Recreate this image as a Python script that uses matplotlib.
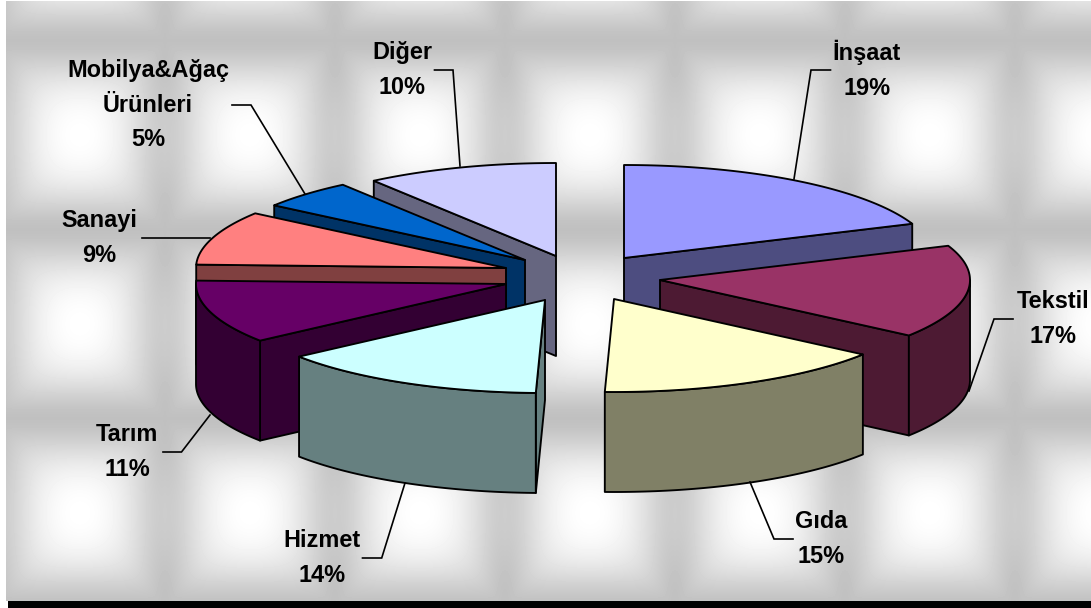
import numpy as np
import matplotlib
matplotlib.use("Agg")
import matplotlib.pyplot as plt
from matplotlib.patches import Polygon, Rectangle

# ---- data ----
categories = ["İnşaat", "Tekstil", "Gıda", "Hizmet", "Tarım", "Sanayi", "Mobilya&Ağaç\nÜrünleri", "Diğer"]
values = [19, 17, 15, 14, 11, 9, 5, 10]

# ---- style ----
top_colors = ["#9999FF", "#993366", "#FFFFCC", "#CCFFFF", "#660066", "#FF8080", "#0066CC", "#CCCCFF"]
side_colors = ["#4D4D80", "#4D1A33", "#808066", "#668080", "#330033", "#804040", "#003366", "#666680"]

# ---- layout (pixels) ----
W, H = 1091, 608
CX, CY = 585, 275
RX, RY, DEPTH = 310, 93, 100
explode_dx = [39, 75, 29, -40, -79, -79, -60, -29]
explode_dy = [-17, 5, 24, 25, 9, -7, -15, -19]
# small corrections of slice boundaries for the perspective of the original 3-D view (degrees)
boundary_nudge = [0, 0, -3, -1.9, -1.5, -1.5, 0, 0, 0]
draw_order = [7, 0, 6, 5, 4, 1, 2, 3]
label_centers = [(867, 70), (1053, 319), (821, 539), (322, 558), (127, 452), (99, 238), (148, 105), (402, 70)]
leader_x = [[830.5, 811, 794], [1013, 994, 969], [793, 774, 750], [362.5, 381.7, 405],
            [163, 181.5, 210], [141.5, 210], [232, 251, 305], [434.5, 453, 460]]
leader_y = [[70, 70, 179], [319, 319, 391], [539, 539, 482], [558, 558, 483],
            [452, 452, 415], [238, 238], [105, 105, 194], [70, 70, 166]]

fig = plt.figure(figsize=(W / 100, H / 100), dpi=100, facecolor="white")
ax = fig.add_axes([0, 0, 1, 1])
ax.set_xlim(0, W)
ax.set_ylim(H, 0)
ax.axis("off")

# background texture: soft pillow tiles
PX, PY = 170.0, 189.0
xs = np.arange(6, W) + 0.5
ys = np.arange(1, 601) + 0.5
gx, gy = np.meshgrid(xs, ys)
cx = np.abs(np.cos(np.pi * (gx - 80) / PX))
cy = np.abs(np.cos(np.pi * (gy - 135) / PY))
p = 3.0
soft_min = (cx ** -p + cy ** -p + 1e-9) ** (-1 / p) * 2 ** (1 / p)
tile = np.clip(soft_min, 0, 1) ** 1.7
band = 0.05 * cy ** 2 * (1 - cx) ** 2
tex = 0.753 + 0.247 * tile + band
ax.imshow(np.clip(tex, 0, 1), cmap="gray", vmin=0, vmax=1, extent=(6, W, 601, 1),
          aspect="auto", interpolation="bilinear", zorder=0)
ax.set_xlim(0, W)
ax.set_ylim(H, 0)
ax.add_patch(Rectangle((8, 601), W - 8, 7, facecolor="black", edgecolor="none", zorder=1))

# angles
cum = np.cumsum([0] + values) / np.sum(values) * 360.0 + np.array(boundary_nudge)
LW = 1.35


def rim(tx, ty, a):
    r = np.radians(a)
    return tx + RX * np.sin(r), ty - RY * np.cos(r)


z = 2
for i in draw_order:
    tx, ty = CX + explode_dx[i], CY + explode_dy[i]
    a0, a1 = cum[i], cum[i + 1]
    style_side = dict(facecolor=side_colors[i], edgecolor="black", linewidth=LW, joinstyle="round")
    # cut faces that look towards the viewer
    faces = []
    if np.sin(np.radians(a0)) < -1e-6:
        faces.append(a0)
    if np.sin(np.radians(a1)) > 1e-6:
        faces.append(a1)
    for a in faces:
        ex, ey = rim(tx, ty, a)
        ax.add_patch(Polygon([(tx, ty), (ex, ey), (ex, ey + DEPTH), (tx, ty + DEPTH)], closed=True, zorder=z, **style_side))
        z += 1
    # outer wall (front part only)
    w0, w1 = max(a0, 90), min(a1, 270)
    if w1 > w0:
        aa = np.linspace(w0, w1, 60)
        rx_, ry_ = rim(tx, ty, aa)
        pts = np.r_[np.c_[rx_, ry_], np.c_[rx_[::-1], ry_[::-1] + DEPTH]]
        ax.add_patch(Polygon(pts, closed=True, zorder=z, **style_side))
        z += 1
    # top face
    aa = np.linspace(a0, a1, 80)
    rx_, ry_ = rim(tx, ty, aa)
    pts = np.r_[[(tx, ty)], np.c_[rx_, ry_]]
    ax.add_patch(Polygon(pts, closed=True, facecolor=top_colors[i], edgecolor="black", linewidth=LW,
                         joinstyle="round", zorder=z))
    z += 1

# leaders and labels
for i, cat in enumerate(categories):
    ax.plot(leader_x[i], leader_y[i], color="black", lw=1.2, zorder=z, solid_joinstyle="miter")
    ax.text(label_centers[i][0], label_centers[i][1], f"{cat}\n{values[i]}%", ha="center", va="center",
            ma="center", fontsize=16.9, fontweight="bold", family="Liberation Sans", color="black",
            linespacing=1.64, zorder=z + 1)

fig.savefig("out.png", dpi=100)
